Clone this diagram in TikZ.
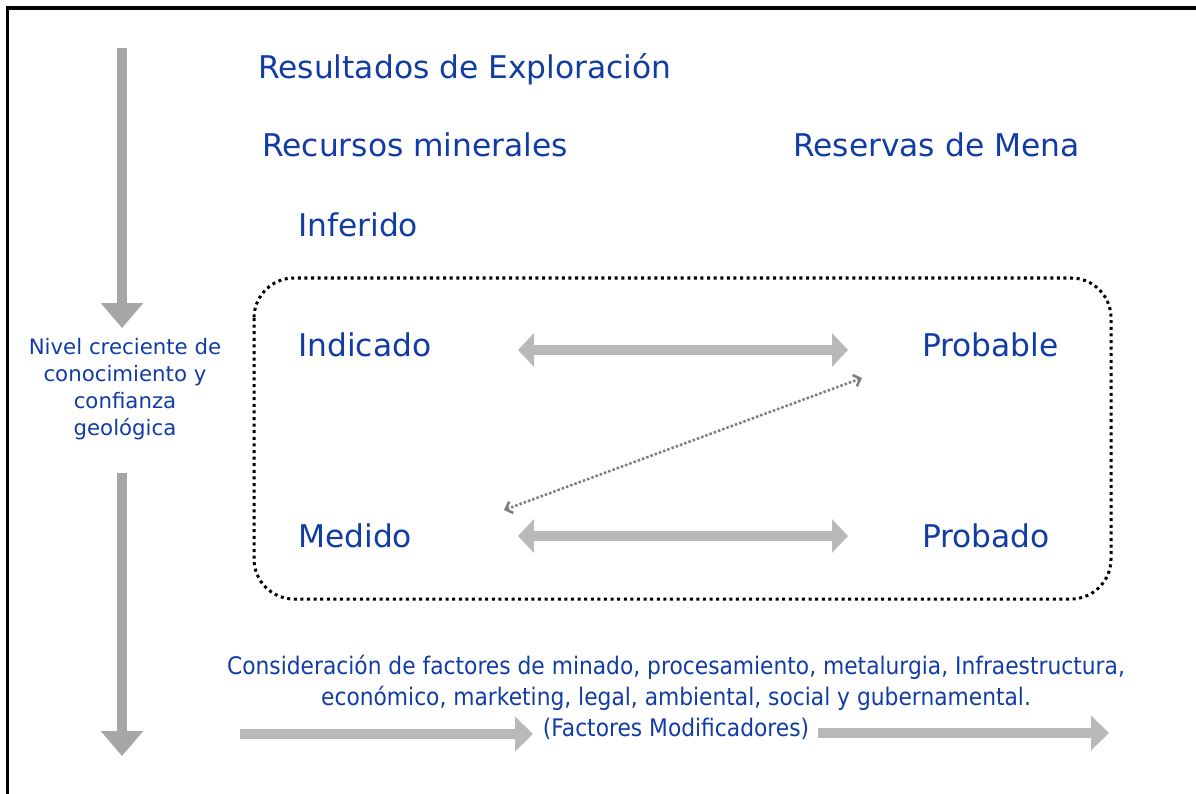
\documentclass[tikz,border=0pt]{standalone}
\usepackage{fontspec}
\setmainfont{DejaVu Sans}
\newfontfamily\condfont{DejaVu Sans}[FakeStretch=0.9]
\usetikzlibrary{arrows.meta}
\definecolor{lblue}{RGB}{18,60,165}
\definecolor{agray}{RGB}{185,185,185}
\definecolor{vgray}{RGB}{166,166,166}
\definecolor{dgray}{RGB}{125,125,125}
\tikzset{
  big/.style={font=\fontsize{31.3}{36}\selectfont, text=lblue, inner sep=0pt, anchor=base west},
  side/.style={font=\fontsize{21.3}{27}\selectfont, text=lblue, inner sep=0pt, align=center, anchor=north},
  bottomtxt/.style={font=\condfont\fontsize{24.2}{31}\selectfont, text=lblue, inner sep=0pt, align=center, anchor=north},
  dblarrow/.style={agray, line width=10pt, {Triangle[width=33pt,length=16pt]}-{Triangle[width=33pt,length=16pt]}},
  fwdarrow/.style={agray, line width=10pt, -{Triangle[width=34pt,length=18pt]}},
  vertarrow/.style={vgray, line width=10pt, -{Triangle[width=41pt,length=25pt]}},
  diagarrow/.style={dgray, line width=2.5pt, dash pattern=on 2.5pt off 2pt, {Straight Barb[length=6pt,width=12pt,line width=2.5pt]}-{Straight Barb[length=6pt,width=12pt,line width=2.5pt]}},
  zone/.style={draw=black, line width=3pt, dash pattern=on 3pt off 3.6pt, rounded corners=40pt}
}
\begin{document}
\begin{tikzpicture}[x=1pt,y=-1pt]
\useasboundingbox (0,0) rectangle (1196,794);
\coordinate (fbl) at (7.5,794);
\coordinate (ftl) at (7.5,8);
\coordinate (ftr) at (1196,8);
\draw[line width=3.5pt] (fbl) -- (ftl) -- (ftr);
% left vertical arrows
\coordinate (v1s) at (122,48);
\coordinate (v1e) at (122,328);
\coordinate (v2s) at (122,473);
\coordinate (v2e) at (122,756);
\draw[vertarrow] (v1s) -- (v1e);
\draw[vertarrow] (v2s) -- (v2e);
\node[side] (nivel) at (125,338) {Nivel creciente de\\conocimiento y\\confianza\\geológica};
% headings
\node[big] (res) at (258,79) {Resultados de Exploración};
\node[big] (rec) at (262,157) {Recursos minerales};
\node[big] (mena) at (793,157) {Reservas de Mena};
\node[big] (inf) at (298,237) {Inferido};
\node[big] (ind) at (298,356) {Indicado};
\node[big] (prob) at (922,356) {Probable};
\node[big] (med) at (298,547) {Medido};
\node[big] (prod) at (922,547) {Probado};
% dotted zone
\draw[zone] (254,278) rectangle (1111,599);
% horizontal double arrows
\coordinate (a1l) at (518,350);
\coordinate (a1r) at (848,350);
\coordinate (a2l) at (518,536);
\coordinate (a2r) at (848,536);
\draw[dblarrow] (a1l) -- (a1r);
\draw[dblarrow] (a2l) -- (a2r);
% diagonal dotted
\coordinate (dgl) at (504,510);
\coordinate (dgr) at (862,378);
\draw[diagarrow] (dgl) -- (dgr);
% bottom text
\node[bottomtxt] (cons) at (676,655) {Consideración de factores de minado, procesamiento, metalurgia, Infraestructura,\\económico, marketing, legal, ambiental, social y gubernamental.\\(Factores Modificadores)};
% bottom arrows
\coordinate (b1s) at (240,734);
\coordinate (b1e) at (533,734);
\coordinate (b2s) at (818,733);
\coordinate (b2e) at (1109,733);
\draw[fwdarrow] (b1s) -- (b1e);
\draw[fwdarrow] (b2s) -- (b2e);
\end{tikzpicture}
\end{document}
